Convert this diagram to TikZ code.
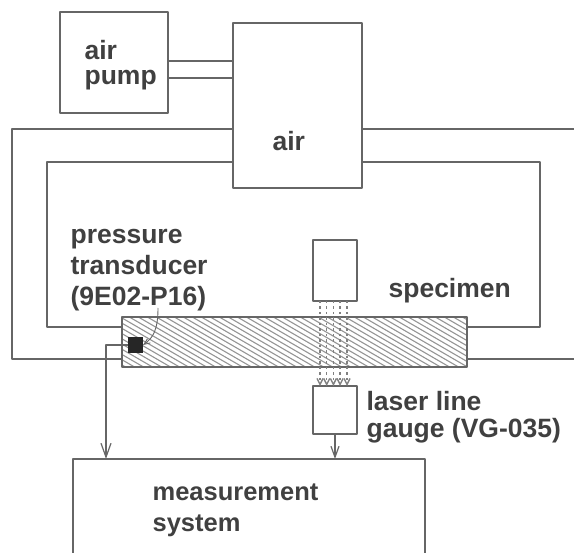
\documentclass[tikz,border=0pt]{standalone}
\usepackage{fontspec}
\setmainfont{Liberation Sans}
\usetikzlibrary{arrows.meta}
\begin{document}
\begin{tikzpicture}[x=1pt,y=-1pt,line join=round,>={Straight Barb[length=14pt,width=10pt]},line width=1.2pt]
	\tikzset{lbl/.style={align=left,font=\fontsize{26.5}{31}\selectfont\bfseries,text=black!75,anchor=west,inner sep=0pt}}
	\tikzset{boxx/.style={draw=black!60,inner sep=0pt,outer sep=0pt}}
	\tikzset{wire/.style={draw=black!60}}
	\tikzset{beam/.style={draw=black!50,line width=1.4pt,dash pattern=on 2.5pt off 3pt,>={Straight Barb[length=6pt,width=6pt]}}}
	\useasboundingbox (0,0) rectangle (574,553);
	\clip (0,0) rectangle (574,553);
	% hatched bar
	\begin{scope}
		\clip (122,317) rectangle (467,367);
		\foreach \i in {-10,...,50}
		\draw[black!42,line width=1.1pt] (100+\i*9,300)--(260+\i*9,392.8);
	\end{scope}
	\node[boxx,minimum width=345,minimum height=50] (spec) at (294.5,342) {};
	\node[boxx,minimum width=108,minimum height=101] (pump) at (114,62.5) {};
	\node[boxx,minimum width=129,minimum height=165] (airbox) at (297.5,105.5) {};
	\node[boxx,minimum width=44,minimum height=61] (laser) at (335,270.5) {};
	\node[boxx,minimum width=44,minimum height=48] (gauge) at (335,410) {};
	\node[boxx,minimum width=352,minimum height=130] (sys) at (249,524) {};
	\node[fill=black!85,minimum width=15,minimum height=16,inner sep=0pt,outer sep=0pt] (sensor) at (135.5,345) {};
	\coordinate (outerR) at (574,129);
	\coordinate (lowerR) at (574,359);
	\coordinate (leader) at (158,308);
	% air lines
	\draw[wire] (pump.east |- 0,61)--(airbox.west |- 0,61);
	\draw[wire] (pump.east |- 0,78)--(airbox.west |- 0,78);
	\draw[wire] (airbox.west |- 0,129)--(12,129)--(12,359)--(spec.west |- 0,359);
	\draw[wire] (airbox.west |- 0,162)--(47,162)--(47,327)--(spec.west |- 0,327);
	\draw[wire] (airbox.east |- outerR)--(outerR);
	\draw[wire] (airbox.east |- 0,162)--(540,162)--(540,327)--(spec.east |- 0,327);
	\draw[wire] (spec.east |- lowerR)--(lowerR);
	% signals
	\draw[wire,->] (sensor.west)--(106,345)--(sys.north -| 106,0);
	\draw[wire,->,>={Straight Barb[length=11pt,width=8pt]}] (gauge.south)--(gauge.south |- sys.north);
	\foreach \x in {320,326.7,333.4,340.1,347}
	\draw[beam,->] (laser.south -| \x,0)--(gauge.north -| \x,0);
	\node[lbl] (pumptxt) at (84,65) {air\\[-6pt]pump};
	\node[lbl] (airtxt) at (272,141) {air};
	\node[lbl] (sensortxt) at (70,270) {pressure\\transducer\\(9E02-P16)};
	\node[lbl] (spectxt) at (388,291) {specimen};
	\node[lbl] (gaugetxt) at (366,417.5) {laser line\\[-4pt]gauge (VG-035)};
	\node[lbl,font=\fontsize{25.5}{31}\selectfont\bfseries] (systxt) at (152,510.5) {measurement\\system};
	\draw[wire,line width=.9pt,->,>={Straight Barb[length=6pt,width=5pt]}] (leader) .. controls (158,330) and (153,338) .. (sensor.east);
\end{tikzpicture}
\end{document}
